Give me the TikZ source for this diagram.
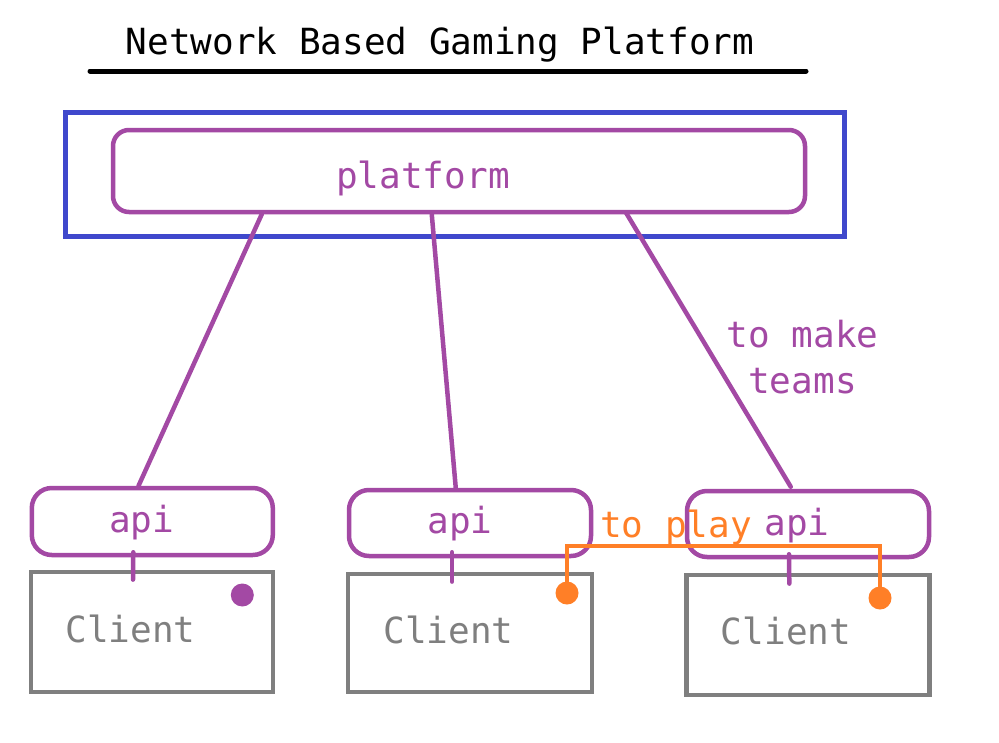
\documentclass[tikz,border=0pt]{standalone}
\usepackage{fontspec}
\newfontfamily\monofnt{DejaVu Sans Mono}
\definecolor{purp}{RGB}{163,73,164}
\definecolor{bluebox}{RGB}{63,72,204}
\definecolor{orng}{RGB}{255,127,39}
\definecolor{grayc}{RGB}{127,127,127}
\tikzset{
  txt/.style={font=\monofnt\fontsize{36}{40}\selectfont, inner sep=0pt, anchor=base},
  pbox/.style={draw=purp, line width=4.5pt, rounded corners=20pt, inner sep=0pt},
  cbox/.style={draw=grayc, line width=4.8pt, inner sep=0pt},
  plink/.style={draw=purp, line width=4.5pt, line cap=round},
  olink/.style={draw=orng, line width=4.5pt},
  dotnode/.style={circle, inner sep=0pt, minimum size=23pt}
}
\begin{document}
\begin{tikzpicture}[x=1pt,y=-1pt]
\useasboundingbox[fill=white] (0,0) rectangle (999,742);
% title
\node[txt] (title) at (440,54) {Network Based Gaming Platform};
\coordinate (ulL) at (90,71);
\coordinate (ulR) at (806,71);
\draw[line width=5pt, line cap=round] (ulL) -- (ulR);
% platform
\node[draw=bluebox, line width=5pt, inner sep=0pt, minimum width=779pt, minimum height=124pt] (outer) at (454.5,174.7) {};
\node[pbox, rounded corners=16pt, minimum width=692pt, minimum height=82pt] (plat) at (459,171) {};
\node[txt, text=purp] (plattxt) at (423,188) {platform};
% api boxes
\node[pbox, minimum width=241pt, minimum height=67pt] (api1) at (152.3,521.5) {};
\node[pbox, minimum width=242pt, minimum height=66pt] (api2) at (470,523) {};
\node[pbox, minimum width=242pt, minimum height=66pt] (api3) at (808,524) {};
\node[txt, text=purp] (api1t) at (141.7,532) {api};
\node[txt, text=purp] (api2t) at (460,533) {api};
\node[txt, text=purp] (api3t) at (797,535) {api};
% clients
\node[cbox, minimum width=242pt, minimum height=120pt] (cl1) at (152,632) {};
\node[cbox, minimum width=244pt, minimum height=118pt] (cl2) at (470,633) {};
\node[cbox, minimum width=243pt, minimum height=120pt] (cl3) at (808.3,635) {};
\node[txt, text=grayc] (cl1t) at (130.5,642) {Client};
\node[txt, text=grayc] (cl2t) at (448.5,643) {Client};
\node[txt, text=grayc] (cl3t) at (786,644) {Client};
% links platform -> api
\draw[plink] ([xshift=151pt]plat.south west) -- ([xshift=109pt]api1.north west);
\draw[plink] ([xshift=321pt]plat.south west) -- ([xshift=109pt]api2.north west);
\draw[plink] ([xshift=515pt,yshift=2pt]plat.south west) -- ([xshift=106pt,yshift=2pt]api3.north west);
\node[txt, text=purp] (mk1) at (802.5,347) {to make};
\node[txt, text=purp] (mk2) at (802.5,393) {teams};
% stubs api -> client
\draw[plink] ([xshift=-19pt,yshift=5pt]api1.south) -- ([xshift=-19pt,yshift=-10pt]cl1.north);
\draw[plink] ([xshift=-18pt,yshift=6pt]api2.south) -- ([xshift=-18pt,yshift=-10pt]cl2.north);
\draw[plink] ([xshift=-19pt,yshift=5pt]api3.south) -- ([xshift=-19pt,yshift=-11pt]cl3.north);
% dots
\node[dotnode, fill=purp] (d1) at (242.3,595) {};
\node[dotnode, fill=orng] (d2) at (567,593) {};
\node[dotnode, fill=orng] (d3) at (880,598) {};
\draw[olink] (d2.center) -- ++(0,-47) -| (d3.center);
\node[txt, text=orng] (play) at (676,537) {to play};
\end{tikzpicture}
\end{document}
